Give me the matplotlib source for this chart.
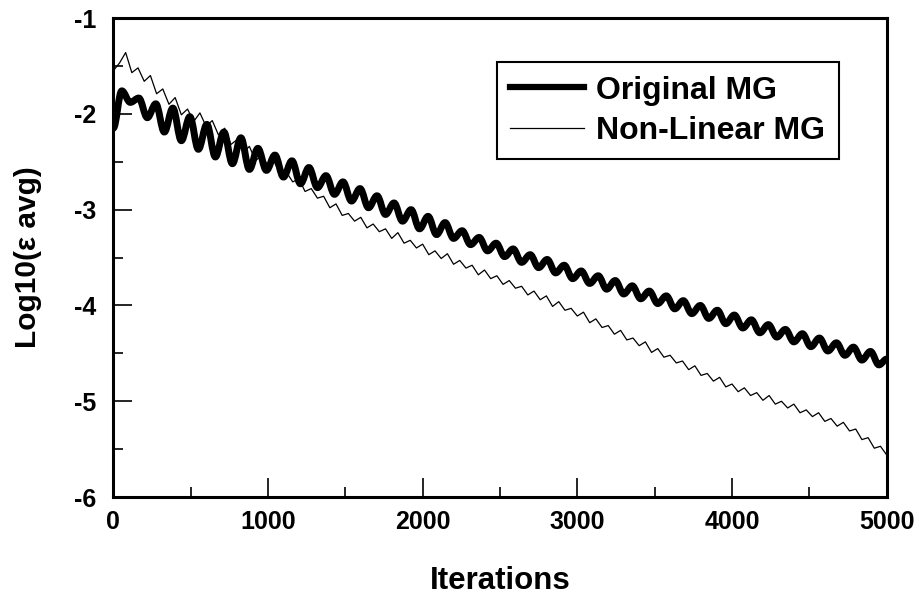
import numpy as np
import matplotlib
matplotlib.use('Agg')
import matplotlib.pyplot as plt
from matplotlib.path import Path
from matplotlib.patches import PathPatch
from matplotlib.lines import Line2D
from matplotlib.ticker import MultipleLocator

# Original MG: turning points (peaks / troughs), one every 55 iterations
orig_iter = np.append(np.arange(0, 4951, 55), 5000)
orig_err = [
    -2.15, -1.76, -1.88, -1.835, -2.04, -1.895, -2.19, -1.94, -2.28, -2.03,
    -2.37, -2.11, -2.45, -2.19, -2.52, -2.25, -2.58, -2.36, -2.59, -2.43,
    -2.66, -2.49, -2.73, -2.56, -2.77, -2.645, -2.84, -2.71, -2.91, -2.78,
    -2.98, -2.855, -3.05, -2.93, -3.12, -3.00, -3.20, -3.07, -3.26, -3.135,
    -3.30, -3.22, -3.365, -3.29, -3.43, -3.35, -3.49, -3.41, -3.55, -3.47,
    -3.605, -3.52, -3.66, -3.58, -3.72, -3.64, -3.77, -3.69, -3.83, -3.74,
    -3.88, -3.795, -3.93, -3.85, -3.98, -3.90, -4.035, -3.95, -4.085, -4.00,
    -4.135, -4.05, -4.19, -4.10, -4.235, -4.15, -4.285, -4.20, -4.33, -4.25,
    -4.38, -4.295, -4.43, -4.34, -4.475, -4.39, -4.52, -4.435, -4.57, -4.48,
    -4.62, -4.56,
]

# Non-Linear MG, sampled every 40 iterations
nl_iter = np.arange(0, 5001, 40)
nl_err = [
    -1.55, -1.47, -1.36, -1.57, -1.52, -1.66, -1.60, -1.79, -1.74, -1.90,
    -1.83, -2.01, -1.95, -2.08, -1.99, -2.13, -2.07, -2.22, -2.15, -2.32,
    -2.27, -2.40, -2.34, -2.49, -2.43, -2.54, -2.50, -2.63, -2.61, -2.71,
    -2.68, -2.81, -2.78, -2.88, -2.86, -2.98, -2.94, -3.06, -3.04, -3.12,
    -3.08, -3.19, -3.15, -3.23, -3.20, -3.30, -3.24, -3.35, -3.32, -3.40,
    -3.36, -3.47, -3.43, -3.51, -3.46, -3.57, -3.53, -3.61, -3.58, -3.68,
    -3.63, -3.72, -3.69, -3.78, -3.74, -3.82, -3.80, -3.89, -3.85, -3.94,
    -3.90, -4.01, -3.96, -4.05, -4.03, -4.11, -4.07, -4.18, -4.14, -4.23,
    -4.21, -4.30, -4.26, -4.36, -4.34, -4.42, -4.38, -4.49, -4.45, -4.54,
    -4.52, -4.60, -4.58, -4.67, -4.63, -4.73, -4.71, -4.79, -4.75, -4.85,
    -4.82, -4.90, -4.86, -4.94, -4.91, -4.99, -4.94, -5.03, -5.00, -5.07,
    -5.03, -5.12, -5.09, -5.16, -5.12, -5.21, -5.18, -5.26, -5.22, -5.31,
    -5.29, -5.40, -5.38, -5.49, -5.47, -5.56,
]

labels = ['Original MG', 'Non-Linear MG']

plt.rcParams['font.family'] = ['Liberation Sans', 'DejaVu Sans']
plt.rcParams['font.weight'] = 'bold'
plt.rcParams['axes.unicode_minus'] = False

fig = plt.figure(figsize=(9.24, 5.96), dpi=100)
ax = fig.add_axes([0.1226, 0.166, 0.837, 0.8037])

# wavy thick curve: cubic segments with flat tangents at each turning point
verts = [(orig_iter[0], orig_err[0])]
codes = [Path.MOVETO]
for i in range(1, len(orig_iter)):
    x0, y0 = orig_iter[i - 1], orig_err[i - 1]
    x1, y1 = orig_iter[i], orig_err[i]
    d = 0.36 * (x1 - x0)
    verts += [(x0 + d, y0), (x1 - d, y1), (x1, y1)]
    codes += [Path.CURVE4] * 3
ax.add_patch(PathPatch(Path(verts, codes), fill=False, edgecolor='black',
                       lw=5.0, joinstyle='round', capstyle='round', zorder=2))

ax.plot(nl_iter, nl_err, color='black', lw=0.9, zorder=3)

ax.set_xlim(0, 5000)
ax.set_ylim(-6, -1)
ax.xaxis.set_major_locator(MultipleLocator(1000))
ax.xaxis.set_minor_locator(MultipleLocator(500))
ax.yaxis.set_major_locator(MultipleLocator(1))
ax.yaxis.set_minor_locator(MultipleLocator(0.5))
ax.tick_params(which='both', direction='in', top=False, right=False,
               width=1.2, labelsize=18)
ax.tick_params(axis='x', which='major', length=14, pad=9)
ax.tick_params(axis='y', which='major', length=14, pad=12)
ax.tick_params(which='minor', length=7)
for s in ax.spines.values():
    s.set_linewidth(2.2)

ax.set_xlabel('Iterations', fontsize=22.5, fontweight='bold', labelpad=23)
ax.set_ylabel('Log10(ε avg)', fontsize=21.5, fontweight='bold', labelpad=23)

handles = [Line2D([], [], color='black', lw=4.5),
           Line2D([], [], color='black', lw=0.9)]
leg = ax.legend(handles, labels, loc='upper right', bbox_to_anchor=(0.938, 0.908),
                borderaxespad=0, fontsize=23, handlelength=2.3, handletextpad=0.4,
                labelspacing=0.32, borderpad=0.42, fancybox=False, framealpha=1)
leg.get_frame().set_edgecolor('black')
leg.get_frame().set_linewidth(1.5)

fig.savefig('out.png', dpi=100)
